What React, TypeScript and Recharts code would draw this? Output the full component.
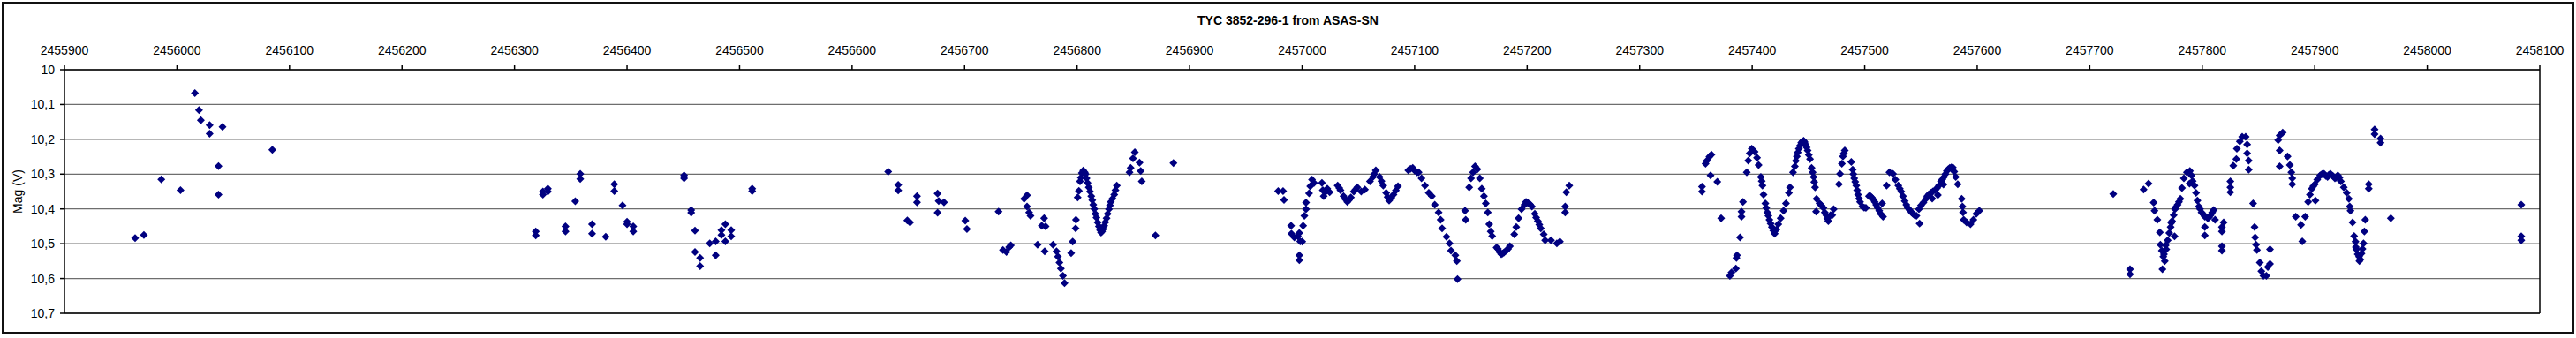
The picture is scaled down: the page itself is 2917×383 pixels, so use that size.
import React from "react"
import { CartesianGrid, ReferenceLine, Scatter, ScatterChart, XAxis, YAxis } from "recharts"

// JD values are stored as JD - 2450000
const JD0 = 2450000

const season2012: [number, number][] = [
  [5962.8, 10.484], [5970.6, 10.475], [5986.1, 10.315], [6003.1, 10.346], [6015.9, 10.067],
  [6019.6, 10.116], [6021.2, 10.145], [6029.0, 10.159], [6029.0, 10.184], [6040.5, 10.164],
  [6036.9, 10.277], [6036.9, 10.359], [6084.8, 10.23],
]

const season2013: [number, number][] = [
  [6318.9, 10.465], [6318.9, 10.476], [6325.2, 10.35], [6325.2, 10.359], [6329.6, 10.342],
  [6329.6, 10.35], [6345.3, 10.45], [6345.3, 10.465], [6354.0, 10.378], [6358.4, 10.299],
  [6358.4, 10.314], [6368.9, 10.444], [6368.9, 10.471], [6381.1, 10.48], [6388.7, 10.329],
  [6388.7, 10.349], [6396.0, 10.39], [6400.0, 10.437], [6400.0, 10.444], [6405.5, 10.45],
  [6405.5, 10.465], [6450.7, 10.304], [6450.7, 10.312], [6457.0, 10.403], [6457.0, 10.411],
  [6460.4, 10.462], [6460.4, 10.524], [6464.9, 10.541], [6464.9, 10.564], [6473.5, 10.499],
  [6478.8, 10.493], [6478.8, 10.533], [6483.9, 10.461], [6483.9, 10.475], [6487.4, 10.444],
  [6487.4, 10.493], [6492.6, 10.461], [6492.6, 10.479], [6511.2, 10.342], [6511.2, 10.349],
]

const season2014: [number, number][] = [
  [6632.1, 10.293], [6641.0, 10.331], [6641.0, 10.347], [6649.1, 10.433], [6651.5, 10.439],
  [6657.7, 10.363], [6657.7, 10.381], [6676.0, 10.356], [6677.0, 10.377], [6681.7, 10.381],
  [6676.0, 10.411], [6700.6, 10.434], [6702.1, 10.458], [6730.2, 10.408], [6734.1, 10.518],
  [6737.2, 10.524], [6739.6, 10.51], [6741.1, 10.505], [6752.9, 10.371], [6755.5, 10.361],
  [6755.5, 10.393], [6757.4, 10.41], [6758.6, 10.42], [6764.9, 10.503], [6768.6, 10.448],
  [6770.7, 10.427], [6772.0, 10.45], [6771.2, 10.522], [6778.6, 10.503], [6781.7, 10.522],
  [6783.0, 10.537], [6784.3, 10.554], [6785.6, 10.571], [6787.4, 10.592], [6788.8, 10.613],
  [6794.7, 10.527], [6796.1, 10.494], [6798.7, 10.456], [6799.0, 10.431], [6800.5, 10.367],
  [6801.6, 10.348], [6802.6, 10.321], [6803.4, 10.31], [6804.2, 10.297], [6805.5, 10.29],
  [6806.8, 10.295], [6807.5, 10.3], [6808.4, 10.312], [6809.3, 10.325], [6810.4, 10.338],
  [6811.5, 10.35], [6812.6, 10.363], [6813.5, 10.375], [6814.4, 10.388], [6815.3, 10.4],
  [6816.2, 10.414], [6817.2, 10.425], [6818.3, 10.439], [6819.4, 10.45], [6820.4, 10.461],
  [6821.3, 10.468], [6822.2, 10.465], [6823.2, 10.458], [6824.1, 10.448], [6825.1, 10.438],
  [6826.2, 10.427], [6827.2, 10.414], [6828.3, 10.401], [6829.2, 10.39], [6830.0, 10.38],
  [6831.5, 10.37], [6833.0, 10.359], [6834.1, 10.346], [6835.3, 10.333], [6846.6, 10.295],
  [6847.6, 10.282], [6849.7, 10.255], [6851.3, 10.237], [6855.5, 10.267], [6856.5, 10.291],
  [6857.5, 10.321], [6869.6, 10.476], [6885.6, 10.268],
]

const season2015: [number, number][] = [
  [6978.7, 10.349], [6983.1, 10.349], [6983.9, 10.374], [6990.2, 10.448], [6990.5, 10.471],
  [6993.1, 10.482], [6996.2, 10.479], [6997.5, 10.469], [6998.3, 10.493], [7000.1, 10.494],
  [6997.5, 10.533], [6997.5, 10.547], [7000.9, 10.448], [7002.0, 10.42], [7003.5, 10.401],
  [7003.5, 10.382], [7006.2, 10.355], [7007.2, 10.335], [7008.8, 10.316], [7010.6, 10.325],
  [7017.6, 10.325], [7018.4, 10.346], [7019.2, 10.363], [7020.5, 10.352], [7022.3, 10.342],
  [7024.5, 10.352], [7031.6, 10.333], [7033.0, 10.34], [7034.1, 10.346], [7036.8, 10.363],
  [7038.5, 10.372], [7040.2, 10.38], [7041.8, 10.374], [7043.3, 10.367], [7045.9, 10.35],
  [7047.5, 10.344], [7049.0, 10.338], [7052.5, 10.35], [7055.8, 10.344], [7060.3, 10.321],
  [7062.9, 10.308], [7064.0, 10.3], [7065.5, 10.289], [7068.9, 10.308], [7070.5, 10.32],
  [7072.1, 10.333], [7074.7, 10.354], [7076.0, 10.366], [7077.3, 10.376], [7079.3, 10.368],
  [7081.2, 10.359], [7083.3, 10.347], [7085.2, 10.335], [7094.4, 10.289], [7096.3, 10.285],
  [7098.3, 10.282], [7100.0, 10.29], [7102.2, 10.295], [7103.5, 10.295], [7106.1, 10.312],
  [7109.2, 10.333], [7112.6, 10.354], [7115.3, 10.363], [7117.9, 10.388], [7121.3, 10.41],
  [7123.1, 10.431], [7124.4, 10.456], [7128.3, 10.48], [7131.0, 10.499], [7132.3, 10.52],
  [7136.2, 10.533], [7137.5, 10.55], [7138.1, 10.602], [7144.8, 10.405], [7145.4, 10.431],
  [7148.5, 10.338], [7150.1, 10.312], [7151.9, 10.295], [7153.7, 10.278], [7155.8, 10.286],
  [7157.9, 10.312], [7159.7, 10.342], [7161.6, 10.363], [7163.2, 10.384], [7165.0, 10.41],
  [7166.3, 10.444], [7167.6, 10.465], [7168.9, 10.478], [7172.8, 10.511], [7174.0, 10.515],
  [7175.4, 10.524], [7177.0, 10.53], [7178.1, 10.528], [7179.5, 10.525], [7181.4, 10.52],
  [7183.0, 10.515], [7184.6, 10.507], [7188.5, 10.473], [7190.3, 10.452], [7192.4, 10.427],
  [7195.0, 10.401], [7197.7, 10.388], [7199.0, 10.38], [7200.8, 10.383], [7202.5, 10.387],
  [7204.2, 10.393], [7206.8, 10.414], [7208.0, 10.425], [7209.5, 10.435], [7210.8, 10.445],
  [7212.1, 10.456], [7214.7, 10.473], [7216.0, 10.49], [7221.2, 10.49], [7226.4, 10.499],
  [7229.1, 10.494], [7233.8, 10.393], [7233.8, 10.41], [7234.8, 10.352], [7237.4, 10.333],
]

const season2016: [number, number][] = [
  [7355.4, 10.336], [7355.4, 10.35], [7358.6, 10.27], [7359.8, 10.261], [7362.0, 10.25],
  [7363.8, 10.244], [7363.0, 10.304], [7369.0, 10.322], [7372.4, 10.427], [7380.2, 10.592],
  [7381.6, 10.583], [7385.5, 10.571], [7386.0, 10.541], [7386.5, 10.533], [7389.2, 10.482],
  [7390.5, 10.422], [7390.5, 10.408], [7391.8, 10.38], [7395.2, 10.295], [7396.5, 10.261],
  [7397.8, 10.24], [7399.6, 10.227], [7402.2, 10.236], [7404.3, 10.253], [7405.7, 10.274],
  [7407.7, 10.308], [7408.5, 10.32], [7409.1, 10.333], [7410.1, 10.359], [7411.7, 10.384],
  [7412.5, 10.397], [7413.5, 10.41], [7414.4, 10.42], [7415.3, 10.431], [7416.4, 10.442],
  [7417.5, 10.452], [7418.8, 10.462], [7420.0, 10.471], [7421.5, 10.46], [7423.2, 10.444],
  [7425.3, 10.427], [7427.9, 10.405], [7430.0, 10.384], [7432.6, 10.354], [7433.6, 10.338],
  [7436.3, 10.295], [7437.9, 10.278], [7438.8, 10.262], [7439.7, 10.249], [7440.5, 10.238],
  [7441.5, 10.227], [7442.5, 10.218], [7443.6, 10.21], [7444.6, 10.206], [7445.7, 10.204],
  [7446.6, 10.208], [7447.5, 10.215], [7448.4, 10.223], [7449.3, 10.232], [7450.3, 10.245],
  [7451.4, 10.257], [7452.8, 10.282], [7453.7, 10.295], [7454.6, 10.308], [7455.2, 10.323],
  [7455.9, 10.338], [7457.2, 10.371], [7456.8, 10.408], [7459.9, 10.384], [7461.5, 10.39],
  [7463.3, 10.397], [7464.5, 10.41], [7465.8, 10.418], [7466.8, 10.428], [7467.7, 10.435],
  [7469.7, 10.418], [7471.1, 10.418], [7472.4, 10.401], [7477.1, 10.329], [7478.1, 10.299],
  [7479.7, 10.27], [7480.7, 10.249], [7481.5, 10.24], [7482.3, 10.232], [7488.1, 10.265],
  [7489.3, 10.287], [7489.9, 10.3], [7490.7, 10.312], [7491.6, 10.322], [7492.5, 10.333],
  [7493.3, 10.346], [7494.1, 10.359], [7495.0, 10.37], [7495.9, 10.38], [7497.9, 10.393],
  [7499.5, 10.396], [7501.1, 10.397], [7503.8, 10.363], [7505.0, 10.363], [7506.3, 10.367],
  [7507.6, 10.373], [7508.9, 10.38], [7510.2, 10.388], [7511.6, 10.397], [7512.9, 10.405],
  [7514.2, 10.414], [7516.3, 10.422], [7515.5, 10.384], [7519.5, 10.333], [7522.0, 10.295],
  [7525.2, 10.299], [7527.3, 10.316], [7529.9, 10.333], [7531.2, 10.342], [7532.5, 10.35],
  [7534.0, 10.363], [7535.6, 10.377], [7537.0, 10.388], [7538.3, 10.397], [7540.0, 10.403],
  [7541.7, 10.41], [7543.0, 10.414], [7544.3, 10.418], [7546.0, 10.42], [7548.8, 10.442],
  [7548.2, 10.401], [7550.0, 10.39], [7552.2, 10.382], [7554.0, 10.372], [7555.6, 10.363],
  [7557.0, 10.358], [7558.7, 10.354], [7560.0, 10.37], [7560.5, 10.35], [7562.6, 10.346],
  [7564.3, 10.34], [7565.0, 10.36], [7566.0, 10.333], [7567.8, 10.321], [7569.0, 10.315],
  [7570.0, 10.33], [7570.5, 10.308], [7571.8, 10.3], [7573.0, 10.291], [7574.3, 10.286],
  [7575.6, 10.282], [7577.0, 10.281], [7578.3, 10.281], [7579.6, 10.293], [7580.9, 10.308],
  [7582.7, 10.329], [7586.2, 10.371], [7586.9, 10.393], [7587.4, 10.41], [7588.0, 10.431],
  [7590.6, 10.439], [7594.0, 10.444], [7596.6, 10.431], [7599.2, 10.414], [7601.9, 10.405],
]

const season2017: [number, number][] = [
  [7720.9, 10.357], [7735.8, 10.573], [7735.8, 10.588], [7747.9, 10.344], [7752.3, 10.327],
  [7756.8, 10.382], [7757.6, 10.405], [7760.1, 10.431], [7762.3, 10.467], [7762.8, 10.503],
  [7764.1, 10.52], [7765.4, 10.537], [7766.0, 10.53], [7766.7, 10.55], [7764.6, 10.573],
  [7767.5, 10.505], [7768.0, 10.516], [7769.3, 10.49], [7770.7, 10.469], [7771.9, 10.452],
  [7772.5, 10.44], [7773.2, 10.435], [7774.6, 10.418], [7775.8, 10.401], [7776.5, 10.395],
  [7775.4, 10.479], [7778.1, 10.388], [7779.3, 10.38], [7780.6, 10.371], [7782.0, 10.34],
  [7783.7, 10.312], [7786.4, 10.295], [7789.0, 10.291], [7790.4, 10.304], [7788.7, 10.327],
  [7791.5, 10.32], [7793.1, 10.333], [7794.5, 10.354], [7795.7, 10.376], [7797.0, 10.393],
  [7798.0, 10.4], [7799.4, 10.41], [7800.8, 10.415], [7802.3, 10.422], [7804.9, 10.427],
  [7806.0, 10.424], [7807.5, 10.418], [7808.8, 10.41], [7810.2, 10.403], [7802.3, 10.452],
  [7802.3, 10.476], [7811.4, 10.431], [7817.5, 10.452], [7817.5, 10.465], [7817.5, 10.507],
  [7817.5, 10.52], [7819.0, 10.439], [7825.0, 10.321], [7825.0, 10.338], [7825.0, 10.352],
  [7827.6, 10.276], [7830.3, 10.257], [7830.8, 10.227], [7833.4, 10.206], [7835.5, 10.193],
  [7838.6, 10.193], [7839.9, 10.215], [7839.9, 10.24], [7841.3, 10.261], [7841.3, 10.287],
  [7845.2, 10.384], [7846.5, 10.452], [7847.0, 10.482], [7847.8, 10.503], [7848.6, 10.518],
  [7851.2, 10.554], [7852.5, 10.579], [7854.4, 10.592], [7857.0, 10.592], [7858.3, 10.567],
  [7860.2, 10.558], [7860.2, 10.516], [7867.5, 10.202], [7868.8, 10.189], [7871.5, 10.181],
  [7868.8, 10.232], [7868.8, 10.278], [7875.8, 10.249], [7877.9, 10.274], [7879.2, 10.295],
  [7880.0, 10.312], [7880.0, 10.329], [7883.1, 10.422], [7887.8, 10.446], [7888.9, 10.493],
  [7891.5, 10.422], [7894.1, 10.38], [7895.7, 10.359], [7897.4, 10.342], [7898.7, 10.335],
  [7900.1, 10.329], [7900.6, 10.376], [7902.2, 10.316], [7904.8, 10.304], [7906.5, 10.3],
  [7908.3, 10.299], [7909.8, 10.305], [7911.4, 10.308], [7912.7, 10.302], [7914.0, 10.299],
  [7916.0, 10.305], [7917.9, 10.312], [7919.2, 10.31], [7920.5, 10.304], [7922.0, 10.31],
  [7923.2, 10.321], [7925.8, 10.338], [7928.4, 10.354], [7930.3, 10.371], [7931.1, 10.393],
  [7931.8, 10.405], [7933.6, 10.439], [7935.0, 10.478], [7936.2, 10.494], [7936.5, 10.51],
  [7937.0, 10.516], [7938.2, 10.53], [7939.4, 10.537], [7939.7, 10.55], [7940.5, 10.545],
  [7941.5, 10.528], [7942.4, 10.515], [7943.3, 10.499], [7944.1, 10.465], [7944.9, 10.431],
  [7948.0, 10.329], [7948.0, 10.342], [7953.2, 10.172], [7953.2, 10.185], [7958.5, 10.198],
  [7958.5, 10.21], [7967.6, 10.427],
]

const season2018: [number, number][] = [
  [8083.5, 10.388], [8083.5, 10.479], [8083.5, 10.49],
]

const xTicks = [
  2455900, 2456000, 2456100, 2456200, 2456300, 2456400, 2456500, 2456600, 2456700, 2456800, 2456900, 2457000,
  2457100, 2457200, 2457300, 2457400, 2457500, 2457600, 2457700, 2457800, 2457900, 2458000, 2458100,
]
const yTicks = [10, 10.1, 10.2, 10.3, 10.4, 10.5, 10.6, 10.7]

const points = [season2012, season2013, season2014, season2015, season2016, season2017, season2018]
  .flat()
  .map(([jd, mag]) => ({ jd: JD0 + jd, mag }))

const FONT = "'Liberation Sans', Arial, sans-serif"

function Diamond(props: any) {
  const { cx, cy } = props
  if (cx == null || cy == null) return null
  const r = 4.5
  return <path d={`M${cx},${cy - r}L${cx + r},${cy}L${cx},${cy + r}L${cx - r},${cy}Z`} fill="#000080" />
}

const formatMag = (v: number) => (Number.isInteger(v) ? String(v) : v.toFixed(1).replace(".", ","))

export default function App() {
  return (
    <div style={{ position: "absolute", left: 0, top: 0, width: 2917, height: 383, background: "#fff" }}>
      <ScatterChart width={2917} height={383} margin={{ top: 49, right: 41, bottom: 28, left: 0 }}>
        <CartesianGrid horizontal vertical={false} stroke="#6e6e6e" strokeWidth={1.2} />
        <XAxis
          dataKey="jd"
          type="number"
          orientation="top"
          domain={[2455900, 2458100]}
          ticks={xTicks}
          height={30}
          tickSize={5}
          tickMargin={12}
          stroke="#000"
          strokeWidth={1.5}
          tick={{ fill: "#000", fontSize: 14, fontFamily: FONT }}
          interval={0}
        />
        <YAxis
          dataKey="mag"
          type="number"
          reversed
          domain={[10, 10.7]}
          ticks={yTicks}
          width={73}
          tickSize={5}
          tickMargin={6}
          stroke="#000"
          strokeWidth={1.5}
          tickFormatter={formatMag}
          tick={{ fill: "#000", fontSize: 14, fontFamily: FONT }}
          interval={0}
        />
        <ReferenceLine y={10.7} stroke="#000" strokeWidth={1.5} />
        <ReferenceLine x={2458100} stroke="#000" strokeWidth={1.5} />
        <Scatter data={points} shape={<Diamond />} isAnimationActive={false} />
      </ScatterChart>
      <div
        style={{
          position: "absolute",
          left: 0,
          top: 15,
          width: 2917,
          textAlign: "center",
          fontFamily: FONT,
          fontWeight: "bold",
          fontSize: 14,
          lineHeight: "16px",
        }}
      >
        TYC 3852-296-1 from ASAS-SN
      </div>
      <div
        style={{
          position: "absolute",
          left: 20,
          top: 217,
          transform: "translate(-50%, -50%) rotate(-90deg)",
          fontFamily: FONT,
          fontSize: 14,
          whiteSpace: "nowrap",
        }}
      >
        Mag (V)
      </div>
      <div
        style={{
          position: "absolute",
          left: 2,
          top: 2,
          width: 2913,
          height: 376,
          boxSizing: "border-box",
          border: "2px solid #111",
          pointerEvents: "none",
        }}
      />
    </div>
  )
}
